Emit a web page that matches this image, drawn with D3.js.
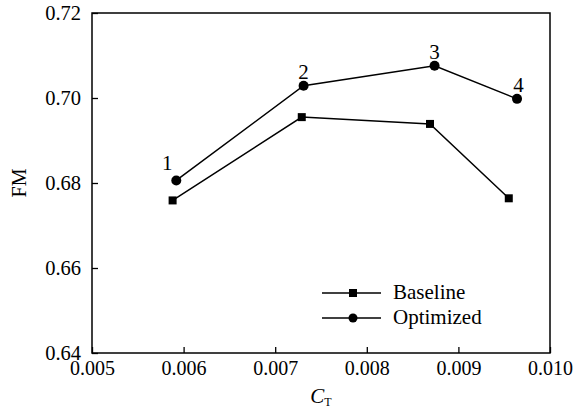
<!DOCTYPE html>
<html>
<head>
    <script src="https://d3js.org/d3.v7.min.js"></script>
    <style>
        body { margin: 0; background: #fff; }
        text { font-family: "Liberation Serif", "Times New Roman", serif; fill: #000; }
    </style>
</head>
<body>
    <div id="chart"></div>

    <script>
        // values
        const seriesNames = ["Baseline", "Optimized"];
        const baselineCT = [0.00588, 0.00729, 0.00869, 0.00955];
        const baselineFM = [0.6759, 0.6955, 0.6939, 0.6764];
        const optimizedCT = [0.00592, 0.00731, 0.00874, 0.00964];
        const optimizedFM = [0.6806, 0.7029, 0.7076, 0.6998];
        const pointLabels = ["1", "2", "3", "4"];
        const xTicks = [0.005, 0.006, 0.007, 0.008, 0.009, 0.010];
        const yTicks = [0.64, 0.66, 0.68, 0.70, 0.72];

        const W = 587, H = 414;
        const margin = { top: 13, right: 37, bottom: 61, left: 92 },
              width = W - margin.left - margin.right,
              height = H - margin.top - margin.bottom;

        const svg = d3.select("#chart")
          .append("svg")
            .attr("width", W)
            .attr("height", H)
          .append("g")
            .attr("transform", `translate(${margin.left},${margin.top})`);

        const x = d3.scaleLinear().domain([0.005, 0.010]).range([0, width]);
        const y = d3.scaleLinear().domain([0.64, 0.72]).range([height, 0]);

        // frame
        svg.append("rect")
          .attr("width", width)
          .attr("height", height)
          .attr("fill", "none")
          .attr("stroke", "#000")
          .attr("stroke-width", 1.5);

        // x axis, ticks inward
        const xAxis = svg.append("g")
          .attr("transform", `translate(0,${height})`)
          .call(d3.axisBottom(x).tickValues(xTicks).tickFormat(d3.format(".3f")).tickSizeInner(-6).tickSizeOuter(0).tickPadding(8));
        xAxis.select(".domain").remove();
        xAxis.selectAll("line").attr("stroke-width", 1.3);
        xAxis.selectAll("text").style("font-size", "20px").style("font-family", "Liberation Serif");

        // y axis, ticks inward
        const yAxis = svg.append("g")
          .call(d3.axisLeft(y).tickValues(yTicks).tickFormat(d3.format(".2f")).tickSizeInner(-6).tickSizeOuter(0).tickPadding(11));
        yAxis.select(".domain").remove();
        yAxis.selectAll("line").attr("stroke-width", 1.3);
        yAxis.selectAll("text").style("font-size", "20.5px").style("font-family", "Liberation Serif");

        // axis titles
        svg.append("text")
          .attr("transform", `translate(-66,${height / 2}) rotate(-90)`)
          .attr("text-anchor", "middle")
          .style("font-size", "20px")
          .text("FM");

        const xt = svg.append("text")
          .attr("x", width / 2)
          .attr("y", height + 50)
          .attr("text-anchor", "middle")
          .style("font-size", "21px");
        xt.append("tspan").style("font-style", "italic").text("C");
        xt.append("tspan").attr("dy", 3).style("font-size", "12px").text("T");

        const line = d3.line()
          .x(d => x(d[0]))
          .y(d => y(d[1]));

        const baseData = baselineCT.map((c, i) => [c, baselineFM[i]]);
        const optData = optimizedCT.map((c, i) => [c, optimizedFM[i]]);

        svg.append("path").datum(baseData)
          .attr("d", line).attr("fill", "none").attr("stroke", "#000").attr("stroke-width", 1.5);
        svg.append("path").datum(optData)
          .attr("d", line).attr("fill", "none").attr("stroke", "#000").attr("stroke-width", 1.5);

        svg.selectAll(".sq").data(baseData).enter().append("rect")
          .attr("x", d => x(d[0]) - 4)
          .attr("y", d => y(d[1]) - 4)
          .attr("width", 8).attr("height", 8)
          .attr("fill", "#000");

        svg.selectAll(".dot").data(optData).enter().append("circle")
          .attr("cx", d => x(d[0]))
          .attr("cy", d => y(d[1]))
          .attr("r", 5)
          .attr("fill", "#000");

        // point numbers; the first one sits a little to the left
        svg.selectAll(".lbl").data(optData).enter().append("text")
          .attr("x", (d, i) => x(d[0]) + (i === 0 ? -9 : i === 3 ? 1.5 : 0))
          .attr("y", (d, i) => y(d[1]) - (i === 0 ? 10.5 : 7))
          .attr("text-anchor", "middle")
          .style("font-size", "21px")
          .text((d, i) => pointLabels[i]);

        // legend
        const legend = svg.selectAll(".legend").data(seriesNames).enter().append("g")
          .attr("transform", (d, i) => `translate(230,${280 + i * 25})`);
        legend.append("line")
          .attr("x1", 0).attr("x2", 59).attr("y1", 0).attr("y2", 0)
          .attr("stroke", "#000").attr("stroke-width", 1.5);
        legend.each(function(d, i) {
          const g = d3.select(this);
          if (i === 0) {
            g.append("rect").attr("x", 27).attr("y", -4).attr("width", 8).attr("height", 8).attr("fill", "#000");
          } else {
            g.append("circle").attr("cx", 31).attr("cy", 0).attr("r", 4.5).attr("fill", "#000");
          }
        });
        legend.append("text")
          .attr("x", 71)
          .attr("y", 6)
          .style("font-size", "21px")
          .text(d => d);
    </script>
</body>
</html>
